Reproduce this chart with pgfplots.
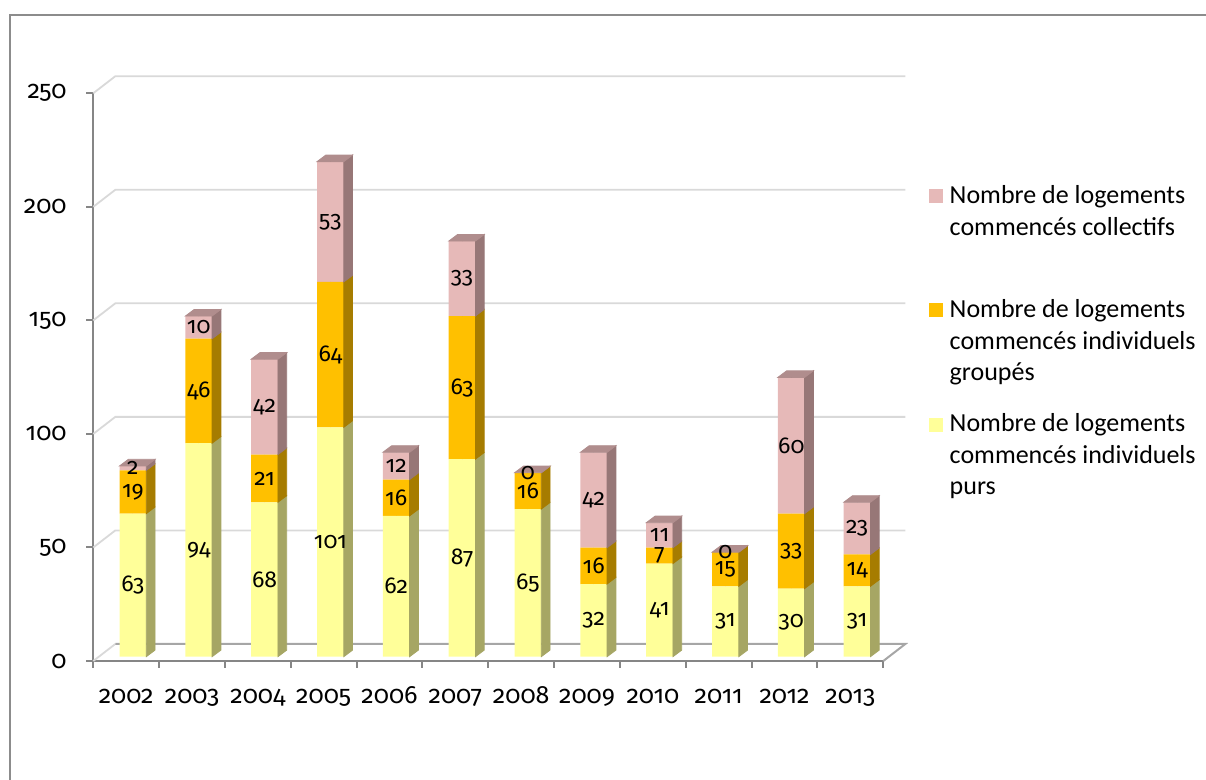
\documentclass[border=0pt]{standalone}
\usepackage{pgfplots}
\pgfplotsset{compat=1.18}
\usepackage{pgfplotstable}
\usepackage{fontspec}
\setmainfont{Carlito}
\newfontfamily\numfont{Fira Sans}[Numbers=OldStyle]

\definecolor{purFront}{HTML}{FFFF99}
\definecolor{purSide}{HTML}{A6A664}
\definecolor{grpFront}{HTML}{FFC000}
\definecolor{grpSide}{HTML}{A67C00}
\definecolor{colFront}{HTML}{E6B9B8}
\definecolor{colSide}{HTML}{977777}
\definecolor{colTop}{HTML}{B08D8D}
\definecolor{gridGray}{HTML}{D9D9D9}
\definecolor{axisGray}{HTML}{868686}
\definecolor{floorGray}{HTML}{A6A6A6}
\definecolor{frameGray}{HTML}{8C8C8C}

% Logements commencés par année et par type
\pgfplotstableread{
i year pur grp col
0  2002  63 19  2
1  2003  94 46 10
2  2004  68 21 42
3  2005 101 64 53
4  2006  62 16 12
5  2007  87 63 33
6  2008  65 16  0
7  2009  32 16 42
8  2010  41  7 11
9  2011  31 15  0
10 2012  30 33 60
11 2013  31 14 23
}\logements

% scale: one year = 32.917pt, one logement = 1.1355pt
\def\xu{32.917pt}
\def\yu{1.1355pt}
\def\hbw{6.675pt}  % half width of a bar
\def\dpx{4.4pt}    % depth of a bar, horizontal
\def\dpy{3.3pt}    % depth of a bar, vertical

\newcommand\legtext[1]{\parbox[t]{150pt}{\raggedright\fontsize{13}{15.85}\selectfont #1}}

% side face (and top face) of one stacked segment, with its value in the middle
\pgfplotsset{
  bar side/.style n args={3}{%
    only marks, mark=*, mark size=0pt, mark options={draw=none,fill=none},
    scatter,
    visualization depends on={\thisrow{#2} \as \segval},
    scatter/@pre marker code/.code={%
      \pgfmathtruncatemacro\seglab{round(\segval)}%
      \pgfmathsetlengthmacro\segh{\seglab*\yu}%
      \fill[#1] (\hbw,0pt) -- (\hbw,-\segh) -- (\hbw+\dpx,-\segh+\dpy) -- (\hbw+\dpx,\dpy) -- cycle;
      \ifnum#3=1
        \fill[colTop] (-\hbw,0pt) -- (\hbw,0pt) -- (\hbw+\dpx,\dpy) -- (-\hbw+\dpx,\dpy) -- cycle;
      \fi
      \node[font=\numfont\fontsize{11.5}{14}\selectfont, inner sep=0pt, text=black] at (0pt,-0.5*\segh) {\seglab};
    },
    scatter/@post marker code/.code={},
  },
}

\begin{document}
\begin{tikzpicture}
\path[use as bounding box, clip] (0pt,0pt) rectangle (603pt,390pt);
\draw[frameGray, line width=1pt] (5pt,-20pt) rectangle (640pt,382.5pt);

% front frame: axes, ticks, back wall and floor
\begin{axis}[
  at={(46.65pt,59.5pt)}, anchor=south west,
  x=\xu, y=\yu, xmin=-0.5, xmax=11.5, ymin=0, ymax=250,
  axis x line*=bottom, axis y line*=left,
  axis line style={axisGray, line width=1pt},
  tick style={axisGray, line width=1pt},
  tick align=outside, major tick length=3.5pt,
  ytick={0,50,...,250},
  xtick={-0.5,0.5,...,11.5}, xticklabels={},
  extra x ticks={0,1,...,11},
  extra x tick labels={2002,2003,2004,2005,2006,2007,2008,2009,2010,2011,2012,2013},
  extra x tick style={major tick length=0pt,
    xticklabel style={anchor=base, inner sep=0pt, yshift=-21.5pt}},
  /pgf/number format/assume math mode=true,
  ticklabel style={font=\numfont\fontsize{12.5}{15}\selectfont, text=black},
  yticklabel style={anchor=east, inner sep=0pt, xshift=-9.65pt},
  clip=false,
]
\pgfplotsinvokeforeach{50,100,150,200,250}{
  \draw[gridGray, line width=0.9pt] (axis cs:-0.5,#1) -- ++(11pt,8.5pt)
    -- ([shift={(11pt,8.5pt)}]axis cs:11.5,#1);
}
\draw[gridGray, line width=0.9pt] (axis cs:-0.5,0) -- ++(11pt,8.5pt);
\draw[floorGray, line width=1pt] ([shift={(11pt,8.5pt)}]axis cs:-0.5,0)
  -- ([shift={(11pt,8.5pt)}]axis cs:11.5,0) -- (axis cs:11.5,0);
\end{axis}

% front faces of the stacked bars
\begin{axis}[
  at={(50pt,61.65pt)}, anchor=south west,
  x=\xu, y=\yu, xmin=-0.5, xmax=11.5, ymin=0, ymax=250,
  hide axis, clip=false,
  ybar stacked, bar width=13.35pt,
  reverse legend,
  legend style={at={(1.0494,0.8372)}, anchor=north west, draw=none, fill=none,
    inner sep=0pt, outer sep=0pt, row sep=42.5pt, column sep=1.35pt,
    cells={anchor=base west, inner sep=0pt}},
]
\addplot[fill=purFront, draw=none,
  legend image code/.code={\fill[purFront] (0pt,0pt) rectangle (7pt,7pt);}]
  table[x=i, y=pur] {\logements};
\addlegendentry{\legtext{Nombre de logements\newline commencés individuels\newline purs}}
\addplot[fill=grpFront, draw=none,
  legend image code/.code={\fill[grpFront] (0pt,0pt) rectangle (7pt,7pt);}]
  table[x=i, y=grp] {\logements};
\addlegendentry{\legtext{Nombre de logements\newline commencés individuels\newline groupés}}
\addplot[fill=colFront, draw=none,
  legend image code/.code={\fill[colFront] (0pt,0pt) rectangle (7pt,7pt);}]
  table[x=i, y=col] {\logements};
\addlegendentry{\legtext{Nombre de logements\newline commencés collectifs}}
\end{axis}

% side and top faces, and the values of the segments
\begin{axis}[
  at={(50pt,61.65pt)}, anchor=south west,
  x=\xu, y=\yu, xmin=-0.5, xmax=11.5, ymin=0, ymax=250,
  hide axis, clip=false,
]
\addplot[bar side={purSide}{pur}{0}] table[x=i, y=pur] {\logements};
\addplot[bar side={grpSide}{grp}{0}] table[x=i, y expr=\thisrow{pur}+\thisrow{grp}] {\logements};
\addplot[bar side={colSide}{col}{1}] table[x=i, y expr=\thisrow{pur}+\thisrow{grp}+\thisrow{col}] {\logements};
\end{axis}
\end{tikzpicture}
\end{document}
